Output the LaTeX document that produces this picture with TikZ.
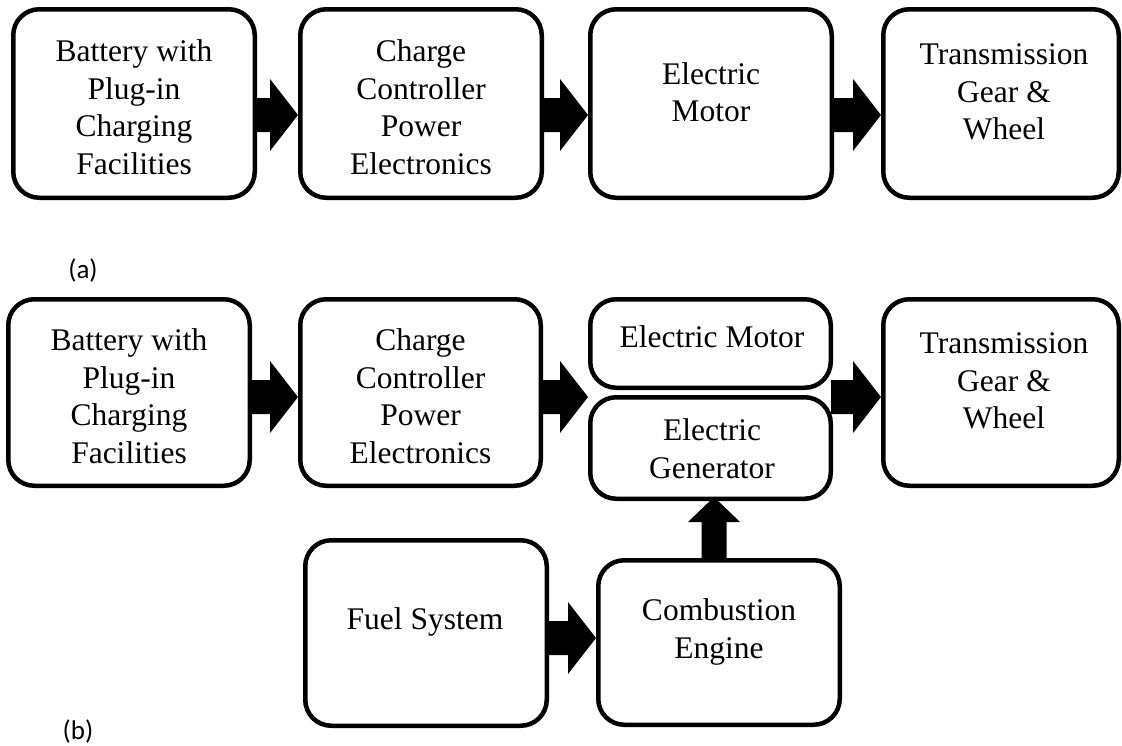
\documentclass[tikz,border=0pt]{standalone}
\usepackage{fontspec}
\setmainfont{Liberation Serif}
\newfontfamily\labfont{Carlito}
\usetikzlibrary{calc}
\tikzset{
  box/.style={draw=black, line width=4.5pt, rounded corners=26pt, fill=white, inner sep=0pt},
  txt/.style={align=center, inner sep=0pt, font=\fontsize{31.5}{37.5}\selectfont},
  sublabel/.style={inner sep=0pt, font=\labfont\fontsize{27}{32}\selectfont},
  fatarrow/.style={fill=black}
}
\newcommand\bx[5]{\node[box, minimum width={(#4-#2-4.5)*1pt}, minimum height={(#5-#3-4.5)*1pt}] (#1) at ({(#2+#4)/2},{(#3+#5)/2}) {};}
\newcommand\harrow[2]{\fill[fatarrow] ($(#1)+(-2,-17)$) -- ($(#2)+(-28,-17)$) -- ($(#2)+(-28,-36)$) -- (#2) -- ($(#2)+(-28,36)$) -- ($(#2)+(-28,17)$) -- ($(#1)+(-2,17)$) -- cycle;}
\newcommand\varrow[2]{\fill[fatarrow] ($(#1)+(-12.5,2)$) -- ($(#2)+(-12.5,25)$) -- ($(#2)+(-26,25)$) -- (#2) -- ($(#2)+(26,25)$) -- ($(#2)+(12.5,25)$) -- ($(#1)+(12.5,2)$) -- cycle;}
\begin{document}
\begin{tikzpicture}[x=1pt,y=-1pt]
\useasboundingbox (0,0) rectangle (1122,745);
\fill[white] (0,0) rectangle (1122,745);
% (a) row
\bx{a1}{11}{7}{257}{200}
\bx{a2}{298}{7}{544}{200}
\bx{a3}{588}{7}{834}{200}
\bx{a4}{881}{7}{1121}{200}
\node[txt] (a1t) at (134,107) {Battery with\\Plug-in\\Charging\\Facilities};
\node[txt] (a2t) at (421,107) {Charge\\Controller\\Power\\Electronics};
\node[txt] (a3t) at (711,92) {Electric\\Motor};
\node[txt] (a4t) at (1004,92) {Transmission\\Gear \&\\Wheel};
\coordinate (p1) at ($(a1.east)+(0,11.5)$);
\coordinate (q1) at (p1 -| a2.west);
\harrow{p1}{q1}
\coordinate (p2) at ($(a2.east)+(0,11.5)$);
\coordinate (q2) at (p2 -| a3.west);
\harrow{p2}{q2}
\coordinate (p3) at ($(a3.east)+(0,11.5)$);
\coordinate (q3) at (p3 -| a4.west);
\harrow{p3}{q3}
\node[sublabel] (la) at (83,270) {(a)};
% (b) row
\bx{b1}{6}{297}{252}{488}
\bx{b2}{298}{297}{543}{488}
\bx{mot}{588}{297}{833}{390}
\bx{gen}{588}{395}{833}{501}
\bx{b4}{881}{297}{1121}{488}
\bx{fuel}{303}{538}{549}{728}
\bx{comb}{596}{558}{842}{727}
\node[txt] (b1t) at (129,396) {Battery with\\Plug-in\\Charging\\Facilities};
\node[txt] (b2t) at (420.5,396) {Charge\\Controller\\Power\\Electronics};
\node[txt] (mott) at (712,337) {Electric Motor};
\node[txt] (gent) at (712,448.5) {Electric\\Generator};
\node[txt] (b4t) at (1004,381) {Transmission\\Gear \&\\Wheel};
\node[txt] (fuelt) at (425,622) {Fuel System};
\node[txt] (combt) at (719,632) {Combustion\\Engine};
\coordinate (r1) at ($(b1.east)+(0,4.5)$);
\coordinate (s1) at (r1 -| b2.west);
\harrow{r1}{s1}
\coordinate (r2) at ($(b2.east)+(0,4.5)$);
\coordinate (s2) at (r2 -| gen.west);
\harrow{r2}{s2}
\coordinate (r3) at (s2 -| gen.east);
\coordinate (s3) at (r3 -| b4.west);
\harrow{r3}{s3}
\coordinate (r4) at ($(fuel.east)+(0,5)$);
\coordinate (s4) at (r4 -| comb.west);
\harrow{r4}{s4}
\coordinate (v1) at ($(comb.north)+(-5,0)$);
\coordinate (w1) at ($(v1 |- gen.south)+(0,-4)$);
\varrow{v1}{w1}
\node[sublabel] (lb) at (78,731) {(b)};
\end{tikzpicture}
\end{document}
